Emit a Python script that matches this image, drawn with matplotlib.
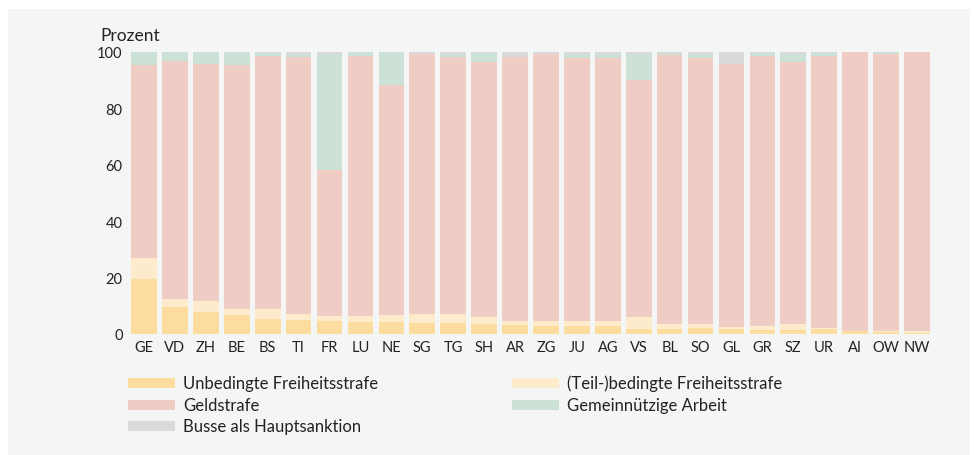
import matplotlib
matplotlib.use("Agg")
import matplotlib.pyplot as plt
from matplotlib.patches import Rectangle
import numpy as np

plt.rcParams["font.family"] = ["Lato", "DejaVu Sans"]

kantone = ["GE", "VD", "ZH", "BE", "BS", "TI", "FR", "LU", "NE", "SG", "TG", "SH", "AR",
           "ZG", "JU", "AG", "VS", "BL", "SO", "GL", "GR", "SZ", "UR", "AI", "OW", "NW"]

unbedingt = [19.5, 9.7, 7.7, 6.7, 5.3, 5.0, 4.5, 4.4, 4.3, 3.9, 3.8, 3.6, 3.2,
             2.8, 2.8, 2.7, 1.9, 1.9, 2.0, 1.8, 1.5, 1.4, 1.8, 1.1, 0.7, 0.5]
bedingt = [7.4, 2.7, 4.0, 2.2, 3.6, 2.2, 1.8, 2.0, 2.4, 3.2, 3.3, 2.4, 1.4,
           1.7, 1.7, 1.9, 4.1, 1.7, 1.4, 0.8, 1.3, 2.2, 0.3, 0.0, 0.4, 0.6]
geldstrafe = [68.5, 84.3, 83.9, 86.5, 89.7, 91.0, 51.7, 92.1, 81.7, 92.1, 91.2, 90.6, 93.7,
              94.8, 93.5, 93.3, 84.1, 95.2, 94.5, 93.0, 95.9, 93.0, 96.5, 98.9, 98.1, 98.9]
gemeinnuetzig = [4.6, 3.3, 4.4, 4.6, 1.0, 1.2, 41.3, 1.5, 11.6, 0.0, 1.0, 3.0, 0.0,
                 0.0, 1.4, 1.4, 9.2, 0.5, 1.4, 0.0, 0.8, 2.8, 0.9, 0.0, 0.8, 0.0]
busse = [0.0, 0.0, 0.0, 0.0, 0.4, 0.6, 0.7, 0.0, 0.0, 0.8, 0.7, 0.4, 1.7,
         0.7, 0.6, 0.7, 0.7, 0.7, 0.7, 4.4, 0.5, 0.6, 0.5, 0.0, 0.0, 0.0]

serien = [
    ("Unbedingte Freiheitsstrafe", unbedingt, "#fddca0"),
    ("(Teil-)bedingte Freiheitsstrafe", bedingt, "#fdebcb"),
    ("Geldstrafe", geldstrafe, "#efcdc4"),
    ("Gemeinnützige Arbeit", gemeinnuetzig, "#cde2d6"),
    ("Busse als Hauptsanktion", busse, "#dadada"),
]

fig = plt.figure(figsize=(9.76, 4.56), dpi=100)
fig.patch.set_facecolor("white")
fig.patches.append(Rectangle((8 / 976, 0), 962 / 976, 1 - 10 / 456, transform=fig.transFigure,
                             facecolor="#f4f6f5", edgecolor="none", zorder=-10))

ax = fig.add_axes([131 / 976, (456 - 335) / 456, (930 - 131) / 976, (335 - 53) / 456])
ax.set_facecolor("none")

x = np.arange(len(kantone))
bottom = np.zeros(len(kantone))
for name, vals, color in serien:
    vals = np.array(vals)
    ax.bar(x, vals, bottom=bottom, width=0.83, color=color, label=name, linewidth=0)
    bottom += vals

ax.set_xlim(-0.42, len(kantone) - 0.58)
ax.set_ylim(0, 100)
ax.set_yticks([0, 20, 40, 60, 80, 100])
ax.set_xticks(x)
ax.set_xticklabels(kantone)
ax.tick_params(axis="both", length=0, labelsize=10.5, colors="#222222")
ax.tick_params(axis="y", pad=6)
ax.tick_params(axis="x", pad=4)
for s in ax.spines.values():
    s.set_visible(False)

fig.text(100 / 976, 1 - 36 / 456, "Prozent", fontsize=12.5, color="#222222", va="center")

# Legende in zwei Spalten
positionen = [(128, 384), (512, 384), (128, 406), (512, 406), (128, 427)]
for (px, py), (name, _, color) in zip(positionen, serien):
    fig.patches.append(Rectangle((px / 976, 1 - (py + 5) / 456), 47 / 976, 10 / 456,
                                 transform=fig.transFigure, facecolor=color, edgecolor="none"))
    fig.text((px + 55) / 976, 1 - py / 456, name, fontsize=12, color="#222222", va="center")

fig.savefig("out.png", dpi=100, facecolor=fig.get_facecolor())
